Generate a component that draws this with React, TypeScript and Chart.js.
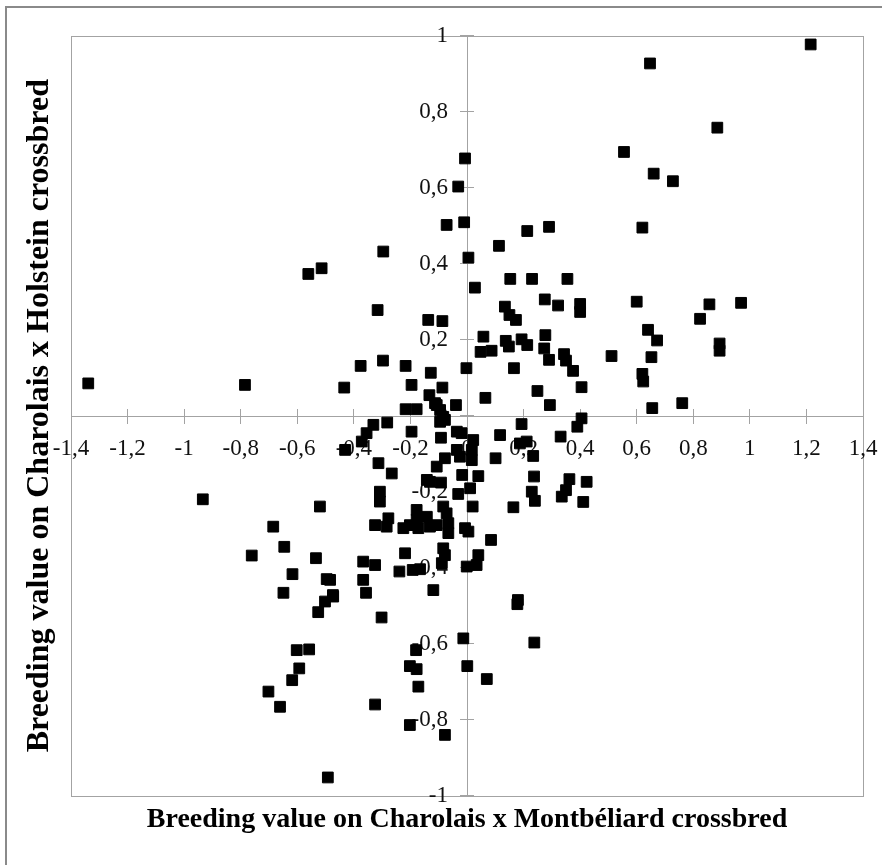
import React, { useEffect, useRef } from "react";
import { Chart, registerables } from "chart.js";

Chart.register(...registerables);

const xTitle = "Breeding value on Charolais x Montbéliard crossbred";
const yTitle = "Breeding value on Charolais x Holstein crossbred";

const xValues: number[] = [
  1.215, 0.647, 0.885, 0.555, 0.66, 0.728, 0.62, 0.4, 0.4, 0.6, 0.857, 0.969, 0.824, 0.64, 0.672, 0.893, 0.893, 0.511, 0.652, 0.62, 0.623, 0.405, 0.655, 0.761, 0.405,
  -0.007, -0.031, -0.072, -0.01, 0.005, 0.113, 0.213, 0.29, 0.028, 0.153, 0.23, 0.355, 0.275, 0.322, 0.134, 0.15, 0.173, 0.058, 0.048, 0.087, 0.137, 0.148, 0.193, 0.213, 0.277, 0.273, 0.29, 0.343, 0.35, 0.375, -0.002, 0.166, 0.065, 0.249, 0.293, -0.039,
  -0.296, -0.561, -0.514, -0.316, -0.137, -0.087, -0.376, -0.297, -0.217, -0.128, -0.785, -0.434, -0.196, -0.087, -0.133, -1.339,
  -0.113, -0.217, -0.178, -0.095, -0.084, -0.095, -0.331, -0.355, -0.282, -0.372, -0.431, -0.196, -0.092, -0.078, -0.036, -0.019, 0.022, 0.017, 0.017, -0.036, -0.025, -0.078, -0.107, 0.101, -0.313, -0.266, -0.142, -0.131, -0.092, -0.017, 0.04, 0.011, -0.031, -0.308, -0.308, 0.02, 0.164, -0.084, -0.072, -0.178, -0.325, -0.278, -0.284, -0.225, -0.202, -0.178, -0.172, -0.142, -0.131, -0.107, -0.066, -0.066, -0.007, 0.005, 0.085, -0.084, -0.078, -0.219, 0.04, -0.367, -0.325, -0.239, -0.192, -0.166, -0.089, -0.001, 0.034, -0.367, -0.357, -0.119, -0.484, -0.474, 0.18,
  0.193, 0.117, 0.187, 0.211, -0.107,
  0.39, 0.234, 0.331, 0.237, 0.229, 0.24, 0.362, 0.35, 0.335, 0.423, 0.411,
  -0.934, -0.52, -0.685, -0.646, -0.761, -0.534, -0.617, -0.496, -0.649, -0.473, -0.502, -0.526, -0.302, -0.602, -0.558, -0.593, -0.618, -0.702, -0.661, -0.325, -0.492, -0.18, -0.202, -0.178, -0.172, -0.202, -0.078,
  0.178, -0.013, 0.238, 0.001, 0.07,
];

const yValues: number[] = [
  0.977, 0.927, 0.758, 0.694, 0.637, 0.617, 0.495, 0.294, 0.273, 0.3, 0.293, 0.297, 0.255, 0.226, 0.198, 0.19, 0.171, 0.157, 0.154, 0.11, 0.09, 0.075, 0.02, 0.033, -0.007,
  0.677, 0.603, 0.502, 0.509, 0.416, 0.447, 0.486, 0.497, 0.337, 0.36, 0.36, 0.36, 0.306, 0.29, 0.287, 0.265, 0.252, 0.208, 0.168, 0.171, 0.197, 0.182, 0.201, 0.186, 0.212, 0.177, 0.147, 0.162, 0.145, 0.118, 0.125, 0.125, 0.047, 0.065, 0.028, 0.028,
  0.432, 0.373, 0.388, 0.278, 0.252, 0.249, 0.131, 0.145, 0.131, 0.113, 0.081, 0.074, 0.081, 0.074, 0.054, 0.085,
  0.033, 0.017, 0.017, 0.015, -0.003, -0.016, -0.024, -0.046, -0.018, -0.068, -0.09, -0.042, -0.058, -0.011, -0.042, -0.046, -0.064, -0.09, -0.117, -0.09, -0.108, -0.112, -0.134, -0.112, -0.125, -0.152, -0.169, -0.174, -0.176, -0.156, -0.159, -0.191, -0.206, -0.2, -0.226, -0.239, -0.241, -0.239, -0.257, -0.248, -0.288, -0.27, -0.292, -0.296, -0.288, -0.274, -0.296, -0.266, -0.292, -0.288, -0.283, -0.309, -0.296, -0.305, -0.327, -0.349, -0.367, -0.362, -0.367, -0.384, -0.393, -0.41, -0.406, -0.404, -0.388, -0.397, -0.393, -0.432, -0.466, -0.459, -0.432, -0.472, -0.485,
  -0.022, -0.051, -0.073, -0.068, 0.028,
  -0.029, -0.106, -0.055, -0.16, -0.2, -0.224, -0.167, -0.196, -0.213, -0.174, -0.227,
  -0.22, -0.239, -0.292, -0.345, -0.368, -0.375, -0.417, -0.43, -0.466, -0.476, -0.489, -0.517, -0.531, -0.617, -0.615, -0.665, -0.696, -0.726, -0.766, -0.76, -0.952, -0.617, -0.659, -0.667, -0.713, -0.814, -0.84,
  -0.496, -0.586, -0.597, -0.659, -0.693,
];

const xMin = -1.4;
const xMax = 1.4;
const yMin = -1;
const yMax = 1;
const tickStep = 0.2;

const SERIF = "'Times New Roman', 'Liberation Serif', serif";
const AXIS_GRAY = "#a3a3a3";
const FRAME_GRAY = "#8a8a8a";

const fmt = (v: number | string) => {
  const n = Math.round(Number(v) * 10) / 10;
  return String(n).replace(".", ",");
};

const framePlugin = {
  id: "frames",
  beforeDraw(chart: any) {
    const { ctx, chartArea } = chart;
    ctx.save();
    ctx.fillStyle = "#ffffff";
    ctx.fillRect(0, 0, chart.width, chart.height);
    ctx.strokeStyle = FRAME_GRAY;
    ctx.lineWidth = 2;
    ctx.strokeRect(6, 7, chart.width + 20, chart.height + 20);
    ctx.strokeStyle = AXIS_GRAY;
    ctx.lineWidth = 1;
    ctx.strokeRect(
      Math.round(chartArea.left) + 0.5,
      Math.round(chartArea.top) + 0.5,
      Math.round(chartArea.right - chartArea.left),
      Math.round(chartArea.bottom - chartArea.top)
    );
    ctx.restore();
  },
};

export default function App() {
  const ref = useRef<HTMLCanvasElement | null>(null);

  useEffect(() => {
    if (!ref.current) return;
    const data = xValues.map((x, i) => ({ x, y: yValues[i] }));
    const chart = new Chart(ref.current, {
      type: "scatter",
      data: {
        datasets: [
          {
            data,
            pointStyle: "rect",
            pointRadius: 7.6,
            pointHoverRadius: 7.6,
            backgroundColor: "#000000",
            borderColor: "#000000",
            borderWidth: 1,
          },
        ],
      },
      options: {
        animation: false,
        responsive: false,
        devicePixelRatio: 1,
        events: [],
        layout: { padding: { top: 35.7, right: 19, bottom: 0, left: 0 } },
        plugins: {
          legend: { display: false },
          tooltip: { enabled: false },
          title: { display: false },
        },
        scales: {
          x: {
            type: "linear",
            position: "center",
            min: xMin,
            max: xMax,
            grid: { drawOnChartArea: false, drawTicks: true, tickLength: 7, color: AXIS_GRAY, lineWidth: 1 },
            border: { display: true, color: AXIS_GRAY, width: 1 },
            ticks: {
              stepSize: tickStep,
              autoSkip: false,
              maxRotation: 0,
              padding: 0,
              color: "#111111",
              font: { family: SERIF, size: 23, lineHeight: "52px" },
              callback: (v: any) => fmt(v),
            },
          },
          y: {
            type: "linear",
            position: "center",
            min: yMin,
            max: yMax,
            grid: { drawOnChartArea: false, drawTicks: true, tickLength: 7, color: AXIS_GRAY, lineWidth: 1 },
            border: { display: true, color: AXIS_GRAY, width: 1 },
            ticks: {
              stepSize: tickStep,
              autoSkip: false,
              padding: 12,
              color: "#111111",
              font: { family: SERIF, size: 23 },
              callback: (v: any) => fmt(v),
            },
          },
          xCross: {
            type: "linear",
            axis: "x",
            position: "center",
            min: xMin,
            max: xMax,
            grid: { drawOnChartArea: false, drawTicks: true, tickLength: -7, color: AXIS_GRAY, lineWidth: 1 },
            border: { display: false },
            ticks: { stepSize: tickStep, display: false },
          },
          yCross: {
            type: "linear",
            axis: "y",
            position: "center",
            min: yMin,
            max: yMax,
            grid: { drawOnChartArea: false, drawTicks: true, tickLength: -7, color: AXIS_GRAY, lineWidth: 1 },
            border: { display: false },
            ticks: { stepSize: tickStep, display: false },
          },
          xTitleAxis: {
            type: "linear",
            axis: "x",
            position: "bottom",
            min: xMin,
            max: xMax,
            grid: { display: false, drawTicks: false },
            border: { display: false },
            ticks: { display: false },
            title: {
              display: true,
              text: xTitle,
              color: "#000000",
              font: { family: SERIF, size: 28, weight: "bold" },
              padding: { top: 7.5, bottom: 28.2 },
            },
          },
          yTitleAxis: {
            type: "linear",
            axis: "y",
            position: "left",
            min: yMin,
            max: yMax,
            grid: { display: false, drawTicks: false },
            border: { display: false },
            ticks: { display: false },
            title: {
              display: true,
              text: yTitle,
              color: "#000000",
              font: { family: SERIF, size: 32, weight: "bold" },
              padding: { top: 20.8, bottom: 11.8 },
            },
          },
        },
      } as any,
      plugins: [framePlugin],
    });
    return () => chart.destroy();
  }, []);

  return (
    <div style={{ position: "absolute", left: 0, top: 0, width: 882, height: 865, background: "#fff" }}>
      <canvas ref={ref} width={882} height={865} style={{ width: 882, height: 865, display: "block" }} />
    </div>
  );
}
